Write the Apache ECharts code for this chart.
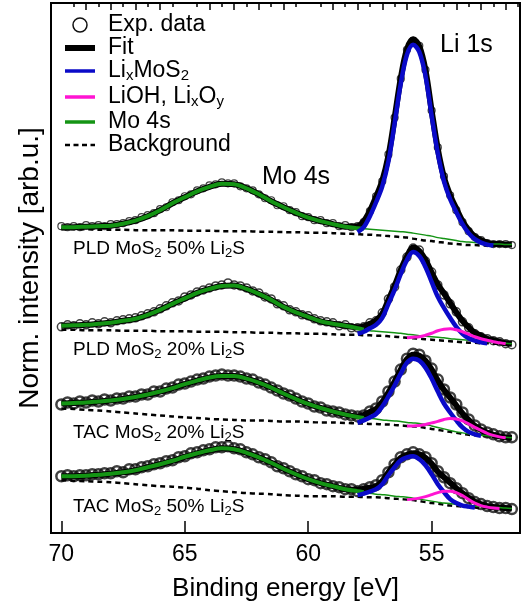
<!DOCTYPE html>
<html>
<head>
<meta charset="utf-8">
<script src="https://cdn.jsdelivr.net/npm/echarts@6/dist/echarts.min.js"></script>
<style>
  html, body { margin: 0; padding: 0; background: #fff; }
  #chart { width: 526px; height: 607px; }
</style>
</head>
<body>
<div id="chart"></div>
<script>
// Energy grid of the fitted components (eV)
const energyC = [70,69.5,69,68.5,68,67.5,67,66.5,66,65.5,65,64.5,64,63.5,63,62.5,62,61.5,61,60.5,60,59.5,59,58.5,58,
  57.75,57.5,57.25,57,56.75,56.5,56.25,56,55.75,55.5,55.25,55,54.75,54.5,54.25,54,53.75,53.5,53.25,53,52.75,52.5,52.25,52,51.75];

// Energy grid of the measured points (eV)
const energyX = [70,69.75,69.5,69.25,69,68.75,68.5,68.25,68,67.75,67.5,67.25,67,66.75,66.5,66.25,66,65.75,65.5,65.25,
  65,64.75,64.5,64.25,64,63.75,63.5,63.25,63,62.75,62.5,62.25,62,61.75,61.5,61.25,61,60.75,60.5,60.25,
  60,59.75,59.5,59.25,59,58.75,58.5,58.25,58,57.75,57.5,57.25,57,56.75,56.5,56.25,56,55.75,55.5,55.25,
  55,54.75,54.5,54.25,54,53.75,53.5,53.25,53,52.75,52.5,52.25,52,51.75];

// Component energy ranges
const lmsE_PLD50 = [58,57.75,57.5,57.25,57,56.75,56.5,56.25,56,55.75,55.5,55.25,55,54.75,54.5,54.25,54,53.75,53.5,53.25,53,52.75,52.5];
const lmsE_PLD20 = [58,57.75,57.5,57.25,57,56.75,56.5,56.25,56,55.75,55.5,55.25,55,54.75,54.5,54.25,54,53.75,53.5,53.25,53,52.75];
const lmsE_TAC20 = [58,57.75,57.5,57.25,57,56.75,56.5,56.25,56,55.75,55.5,55.25,55,54.75,54.5,54.25,54,53.75,53.5,53.25,53];
const lmsE_TAC50 = [58,57.75,57.5,57.25,57,56.75,56.5,56.25,56,55.75,55.5,55.25,55,54.75,54.5,54.25,54,53.75,53.5,53.25];
const liohE_PLD20 = [56,55.75,55.5,55.25,55,54.75,54.5,54.25,54,53.75,53.5,53.25,53,52.75,52.5,52.25,52];
const liohE_TAC20 = [56,55.75,55.5,55.25,55,54.75,54.5,54.25,54,53.75,53.5,53.25,53,52.75,52.5,52.25,52];
const liohE_TAC50 = [56,55.75,55.5,55.25,55,54.75,54.5,54.25,54,53.75,53.5,53.25,53,52.75,52.5,52.25];

// ---- PLD MoS2 50% Li2S (offset spectrum, top) ----
const bg_PLD50 = [3.05,3.05,3.05,3.045,3.045,3.045,3.04,3.04,3.04,3.04,3.035,3.035,3.035,3.03,3.03,3.03,3.025,3.025,3.02,3.02,3.015,3.015,3.01,3.005,3.00,
  2.995,2.995,2.99,2.985,2.98,2.975,2.97,2.965,2.955,2.945,2.935,2.93,2.92,2.915,2.905,2.90,2.895,2.89,2.89,2.885,2.885,2.885,2.88,2.88,2.88];
const mo_PLD50 = [3.07,3.07,3.075,3.08,3.085,3.105,3.135,3.18,3.24,3.31,3.37,3.43,3.475,3.505,3.50,3.46,3.40,3.33,3.27,3.215,3.165,3.13,3.10,3.075,3.06,
  3.055,3.05,3.045,3.04,3.035,3.03,3.025,3.02,3.01,3.00,2.99,2.98,2.965,2.955,2.945,2.935,2.925,2.92,2.915,2.91,2.905,2.90,2.90,2.895,2.895];
const lms_PLD50 = [3.02,3.07,3.18,3.32,3.48,3.73,4.11,4.51,4.80,4.90,4.83,4.59,4.19,3.81,3.53,3.35,3.22,3.10,3.01,2.95,2.915,2.895,2.885];
const exp_PLD50 = [3.08,3.07,3.08,3.07,3.09,3.08,3.09,3.08,3.10,3.10,3.11,3.13,3.14,3.17,3.19,3.21,3.25,3.27,3.32,3.34,
  3.38,3.40,3.44,3.46,3.49,3.50,3.52,3.51,3.51,3.48,3.46,3.44,3.40,3.36,3.34,3.29,3.28,3.24,3.22,3.18,
  3.17,3.14,3.14,3.11,3.11,3.08,3.09,3.07,3.08,3.12,3.23,3.38,3.53,3.80,4.17,4.56,4.85,4.94,4.89,4.65,
  4.24,3.87,3.58,3.39,3.24,3.12,3.03,2.97,2.94,2.91,2.90,2.90,2.90,2.89];

// ---- PLD MoS2 20% Li2S ----
const bg_PLD20 = [2.04,2.04,2.035,2.035,2.035,2.03,2.03,2.03,2.025,2.025,2.025,2.02,2.02,2.02,2.015,2.015,2.01,2.01,2.005,2.005,2.00,2.00,1.995,1.99,1.99,
  1.985,1.985,1.98,1.98,1.975,1.97,1.965,1.96,1.955,1.95,1.945,1.94,1.935,1.93,1.925,1.92,1.915,1.91,1.91,1.905,1.905,1.90,1.90,1.90,1.90];
const mo_PLD20 = [2.08,2.085,2.09,2.10,2.11,2.13,2.15,2.19,2.24,2.30,2.355,2.41,2.45,2.48,2.485,2.45,2.40,2.34,2.27,2.215,2.17,2.125,2.10,2.08,2.055,
  2.04,2.03,2.025,2.02,2.015,2.01,2.005,1.995,1.99,1.98,1.975,1.97,1.965,1.96,1.95,1.945,1.94,1.935,1.93,1.925,1.92,1.915,1.91,1.905,1.90];
const lms_PLD20 = [2.00,2.02,2.055,2.09,2.16,2.30,2.44,2.60,2.74,2.82,2.78,2.67,2.52,2.37,2.26,2.16,2.07,2.00,1.955,1.93,1.915,1.905];
const lioh_PLD20 = [1.96,1.965,1.97,1.985,2.005,2.03,2.045,2.05,2.04,2.02,1.995,1.97,1.95,1.935,1.92,1.91,1.90];
const exp_PLD20 = [2.07,2.09,2.08,2.10,2.09,2.11,2.10,2.12,2.11,2.13,2.14,2.15,2.16,2.18,2.20,2.22,2.25,2.28,2.31,2.33,
  2.37,2.39,2.42,2.44,2.46,2.48,2.49,2.51,2.49,2.48,2.46,2.43,2.41,2.37,2.35,2.30,2.28,2.24,2.22,2.19,
  2.18,2.15,2.13,2.12,2.11,2.08,2.09,2.06,2.06,2.07,2.11,2.13,2.21,2.35,2.47,2.64,2.77,2.86,2.84,2.73,
  2.62,2.49,2.39,2.30,2.22,2.12,2.06,2.00,1.97,1.95,1.93,1.92,1.90,1.89];

// ---- TAC MoS2 20% Li2S ----
const bg_TAC20 = [1.25,1.245,1.235,1.23,1.22,1.21,1.20,1.19,1.18,1.17,1.16,1.155,1.145,1.14,1.135,1.13,1.13,1.125,1.12,1.12,1.115,1.11,1.11,1.105,1.10,
  1.10,1.095,1.095,1.09,1.09,1.085,1.08,1.075,1.07,1.065,1.055,1.045,1.035,1.025,1.015,1.005,0.995,0.985,0.98,0.975,0.97,0.965,0.96,0.955,0.95];
const mo_TAC20 = [1.30,1.305,1.31,1.32,1.33,1.345,1.365,1.39,1.42,1.455,1.495,1.53,1.56,1.575,1.575,1.55,1.51,1.46,1.40,1.345,1.295,1.255,1.22,1.19,1.165,
  1.155,1.15,1.145,1.135,1.13,1.125,1.12,1.11,1.105,1.10,1.09,1.075,1.06,1.045,1.03,1.015,1.005,0.995,0.985,0.98,0.975,0.97,0.965,0.96,0.955];
const lms_TAC20 = [1.105,1.13,1.16,1.195,1.27,1.37,1.48,1.60,1.71,1.75,1.73,1.66,1.55,1.42,1.30,1.21,1.13,1.06,1.015,0.99,0.975];
const lioh_TAC20 = [1.075,1.075,1.08,1.09,1.105,1.12,1.14,1.15,1.145,1.125,1.095,1.06,1.03,1.00,0.98,0.965,0.955];
const exp_TAC20 = [1.29,1.31,1.30,1.32,1.31,1.33,1.32,1.34,1.33,1.35,1.35,1.37,1.37,1.39,1.39,1.42,1.42,1.45,1.46,1.49,
  1.50,1.52,1.54,1.55,1.57,1.58,1.59,1.58,1.58,1.57,1.55,1.54,1.51,1.49,1.46,1.43,1.40,1.38,1.35,1.32,
  1.30,1.27,1.26,1.23,1.22,1.21,1.19,1.18,1.17,1.18,1.22,1.25,1.32,1.42,1.52,1.64,1.75,1.80,1.79,1.73,
  1.65,1.54,1.44,1.36,1.29,1.21,1.14,1.08,1.04,1.01,0.99,0.97,0.96,0.96];

// ---- TAC MoS2 50% Li2S (bottom) ----
const bg_TAC50 = [0.53,0.525,0.52,0.515,0.51,0.50,0.49,0.48,0.47,0.465,0.455,0.445,0.43,0.42,0.41,0.40,0.395,0.39,0.38,0.375,0.37,0.37,0.37,0.365,0.365,
  0.36,0.36,0.36,0.355,0.35,0.345,0.34,0.335,0.33,0.32,0.31,0.30,0.295,0.285,0.275,0.27,0.265,0.26,0.255,0.25,0.25,0.245,0.245,0.24,0.24];
const mo_TAC50 = [0.57,0.57,0.575,0.585,0.595,0.61,0.63,0.66,0.69,0.725,0.765,0.80,0.83,0.85,0.84,0.805,0.76,0.705,0.645,0.59,0.54,0.50,0.47,0.44,0.42,
  0.41,0.40,0.39,0.385,0.38,0.37,0.365,0.36,0.35,0.34,0.33,0.32,0.31,0.30,0.295,0.285,0.28,0.275,0.27,0.265,0.26,0.255,0.255,0.25,0.245];
const lms_TAC50 = [0.38,0.395,0.415,0.44,0.49,0.58,0.66,0.73,0.76,0.77,0.74,0.68,0.59,0.49,0.41,0.34,0.30,0.275,0.265,0.255];
const lioh_TAC50 = [0.335,0.34,0.35,0.365,0.385,0.405,0.42,0.42,0.405,0.375,0.335,0.30,0.275,0.26,0.25,0.245];
const exp_TAC50 = [0.57,0.58,0.57,0.58,0.58,0.59,0.59,0.60,0.60,0.62,0.61,0.64,0.64,0.66,0.67,0.69,0.70,0.72,0.73,0.76,
  0.77,0.80,0.81,0.83,0.84,0.86,0.86,0.87,0.85,0.84,0.81,0.79,0.76,0.74,0.71,0.67,0.65,0.62,0.59,0.57,
  0.54,0.53,0.50,0.49,0.47,0.46,0.44,0.44,0.42,0.44,0.46,0.48,0.53,0.61,0.69,0.76,0.79,0.81,0.79,0.76,
  0.70,0.62,0.56,0.50,0.45,0.40,0.35,0.31,0.29,0.27,0.26,0.25,0.25,0.24];

// Axis ticks
const majorTicks = [55, 60, 65, 70];
const eVTicks = [52,53,54,56,57,58,59,61,62,63,64,66,67,68,69];
const halfTicks = [51.5,52.5,53.5,54.5,55.5,56.5,57.5,58.5,59.5,60.5,61.5,62.5,63.5,64.5,65.5,66.5,67.5,68.5,69.5];

const spectra = [
  { label: '{n|PLD MoS}{s|2}{n| 50% Li}{s|2}{n|S}', bg: bg_PLD50, mo: mo_PLD50, lmsE: lmsE_PLD50, lms: lms_PLD50, exp: exp_PLD50,
    labelY: 249, dot: { size: 7, border: 1.2 } },
  { label: '{n|PLD MoS}{s|2}{n| 20% Li}{s|2}{n|S}', bg: bg_PLD20, mo: mo_PLD20, lmsE: lmsE_PLD20, lms: lms_PLD20, liohE: liohE_PLD20, lioh: lioh_PLD20, exp: exp_PLD20,
    labelY: 350, dot: { size: 8, border: 1.5 } },
  { label: '{n|TAC MoS}{s|2}{n| 20% Li}{s|2}{n|S}', bg: bg_TAC20, mo: mo_TAC20, lmsE: lmsE_TAC20, lms: lms_TAC20, liohE: liohE_TAC20, lioh: lioh_TAC20, exp: exp_TAC20,
    labelY: 433, dot: { size: 10, border: 2.5 } },
  { label: '{n|TAC MoS}{s|2}{n| 50% Li}{s|2}{n|S}', bg: bg_TAC50, mo: mo_TAC50, lmsE: lmsE_TAC50, lms: lms_TAC50, liohE: liohE_TAC50, lioh: lioh_TAC50, exp: exp_TAC50,
    labelY: 507, dot: { size: 10, border: 2.5 } }
];

const FONT = '"Liberation Sans", Arial, Helvetica, sans-serif';
const GREEN = '#149414';
const BLUE = '#0a0ac8';
const MAGENTA = '#ff14d2';

const zip = (xs, ys) => xs.map((x, i) => [x, ys[i]]);

// Envelope = Mo 4s curve plus every other component's height above the background
function envelope(s) {
  const comps = [[s.lmsE, s.lms]];
  if (s.lioh) comps.push([s.liohE, s.lioh]);
  return energyC.map((e, i) => {
    let v = s.mo[i];
    comps.forEach(([E, V]) => {
      const k = E.indexOf(e);
      if (k >= 0) v += V[k] - s.bg[i];
    });
    return [e, v];
  });
}

const series = [];
spectra.forEach(s => {
  series.push({
    name: 'Exp. data', type: 'scatter', data: zip(energyX, s.exp),
    symbol: 'circle', symbolSize: s.dot.size, z: 2, silent: true,
    itemStyle: { color: 'rgba(255,255,255,0)', borderColor: '#111', borderWidth: s.dot.border }
  });
  series.push({
    name: 'Fit', type: 'line', data: envelope(s), symbol: 'none', smooth: 0.35, z: 3,
    lineStyle: { color: '#000', width: 6 }
  });
  series.push({
    name: 'Background', type: 'line', data: zip(energyC, s.bg), symbol: 'none', smooth: 0.3, z: 4,
    lineStyle: { color: '#000', width: 2.5, type: [5, 4] }
  });
  const mo = zip(energyC, s.mo);
  series.push({
    name: 'Mo 4s', type: 'line', data: mo.filter(p => p[0] >= 57.75), symbol: 'none', smooth: 0.35, z: 5,
    lineStyle: { color: GREEN, width: 4 }
  });
  series.push({
    name: 'Mo 4s', type: 'line', data: mo.filter(p => p[0] <= 57.75), symbol: 'none', smooth: 0.35, z: 5,
    lineStyle: { color: GREEN, width: 1.5 }
  });
  series.push({
    name: 'LixMoS2', type: 'line', data: zip(s.lmsE, s.lms), symbol: 'none', smooth: 0.35, z: 6,
    lineStyle: { color: BLUE, width: 4.5 }
  });
  if (s.lioh) {
    series.push({
      name: 'LiOH, LixOy', type: 'line', data: zip(s.liohE, s.lioh), symbol: 'none', smooth: 0.35, z: 7,
      lineStyle: { color: MAGENTA, width: 3 }
    });
  }
});

// Key drawn as plain graphics: sample glyph at x 65..95, text from x 108
const keyRows = [
  { y: 25,  kind: 'circle', text: 'Exp. data' },
  { y: 48,  kind: 'line', color: '#000', width: 6, text: 'Fit' },
  { y: 71,  kind: 'line', color: BLUE, width: 3.5, text: 'Li{s|x}MoS{s|2}' },
  { y: 97,  kind: 'line', color: MAGENTA, width: 3.5, text: 'LiOH, Li{s|x}O{s|y}' },
  { y: 122, kind: 'line', color: GREEN, width: 3.5, text: 'Mo 4s' },
  { y: 145, kind: 'dash', color: '#000', width: 2.5, text: 'Background' }
];
const keyRich = {
  n: { fontSize: 23, fontFamily: FONT, fill: '#000', lineHeight: 24 },
  s: { fontSize: 15, fontFamily: FONT, fill: '#000', verticalAlign: 'bottom', lineHeight: 12 }
};

const labelRich = {
  n: { fontSize: 19, fontFamily: FONT, fill: '#000', lineHeight: 22 },
  s: { fontSize: 13, fontFamily: FONT, fill: '#000', verticalAlign: 'bottom', lineHeight: 11 }
};

const graphics = [];
keyRows.forEach(r => {
  if (r.kind === 'circle') {
    graphics.push({ type: 'circle', z: 20, shape: { cx: 80, cy: r.y, r: 7 },
      style: { fill: 'none', stroke: '#111', lineWidth: 1.5 } });
  } else {
    graphics.push({ type: 'line', z: 20, shape: { x1: 65, y1: r.y, x2: 95, y2: r.y },
      style: { stroke: r.color, lineWidth: r.width, lineDash: r.kind === 'dash' ? [5, 3.5] : null } });
  }
  const txt = r.text.replace(/^([^{]+)/, '{n|$1}').replace(/\}([^{}]+)(?=\{|$)/g, '}{n|$1}');
  graphics.push({ type: 'text', z: 20, x: 108, y: r.y,
    style: { text: txt, rich: keyRich, verticalAlign: 'middle', align: 'left' } });
});
spectra.forEach(s => {
  graphics.push({ type: 'text', x: 73, y: s.labelY, z: 20,
    style: { text: s.label, rich: labelRich, verticalAlign: 'middle', align: 'left' } });
});
graphics.push({ type: 'text', x: 262, y: 177, z: 20,
  style: { text: 'Mo 4s', font: '25px ' + FONT, fill: '#000', verticalAlign: 'middle' } });
graphics.push({ type: 'text', x: 440, y: 45, z: 20,
  style: { text: 'Li 1s', font: '25px ' + FONT, fill: '#000', verticalAlign: 'middle' } });

const baseX = {
  type: 'value', min: 51.42, max: 70.42, inverse: true, gridIndex: 0,
  splitLine: { show: false }, axisLine: { show: false }
};

const option = {
  animation: false,
  backgroundColor: '#fff',
  textStyle: { fontFamily: FONT },
  grid: { left: 51, right: 6, top: 3, bottom: 72, show: true, borderColor: '#000', borderWidth: 2, backgroundColor: 'transparent' },
  xAxis: [
    Object.assign({}, baseX, {
      axisTick: { show: true, inside: true, length: 12, customValues: majorTicks, lineStyle: { color: '#000', width: 1.5 } },
      axisLabel: { show: true, customValues: majorTicks, fontSize: 23, color: '#000', margin: 10, fontFamily: FONT },
      name: 'Binding energy [eV]', nameLocation: 'middle', nameGap: 43,
      nameTextStyle: { fontSize: 26, color: '#000', fontFamily: FONT }
    }),
    Object.assign({}, baseX, {
      axisTick: { show: true, inside: true, length: 7, customValues: eVTicks, lineStyle: { color: '#000', width: 1.5 } },
      axisLabel: { show: false }
    }),
    Object.assign({}, baseX, {
      axisTick: { show: true, inside: true, length: 4, customValues: halfTicks, lineStyle: { color: '#000', width: 1.5 } },
      axisLabel: { show: false }
    })
  ],
  yAxis: {
    type: 'value', min: 0, max: 5.32,
    axisLine: { show: false }, axisTick: { show: false }, axisLabel: { show: false }, splitLine: { show: false },
    name: 'Norm. intensity [arb.u.]', nameLocation: 'middle', nameGap: 7,
    nameTextStyle: { fontSize: 28, color: '#000', fontFamily: FONT }
  },
  series: series,
  graphic: graphics
};

const chart = echarts.init(document.getElementById('chart'), null, { renderer: 'canvas' });
chart.setOption(option);
</script>
</body>
</html>
